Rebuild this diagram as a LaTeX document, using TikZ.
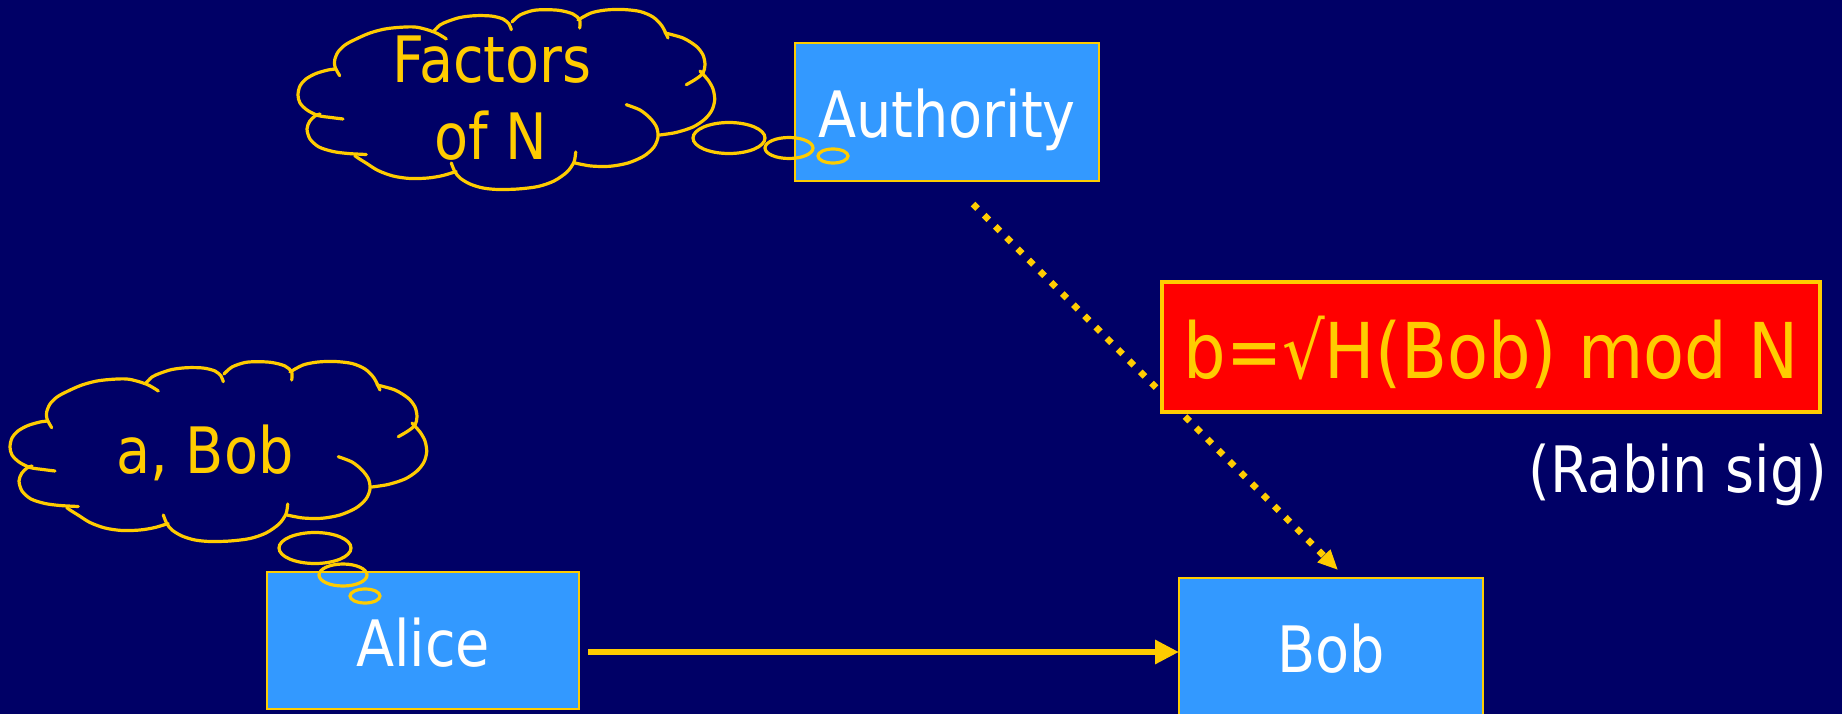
\documentclass[tikz,border=0pt]{standalone}
\usepackage{fontspec}
\setmainfont{DejaVu Sans}[FakeStretch=0.87]
\usetikzlibrary{arrows.meta}
\definecolor{bg}{HTML}{000066}
\definecolor{boxblue}{HTML}{3399FF}
\definecolor{gold}{HTML}{FFCC00}
\definecolor{sigred}{HTML}{FF0000}
\tikzset{
  actor/.style={draw=gold, line width=2pt, fill=boxblue, inner sep=0pt, outer sep=0pt,
    text=white, font=\fontsize{64}{77}\selectfont, text height=51pt, text depth=0pt},
  puff/.style={draw=gold, line width=3.2pt, line cap=round},
  thoughttext/.style={text=gold, font=\fontsize{64}{77}\selectfont, anchor=base, inner sep=0pt},
  bubble/.style={draw=gold, line width=3.2pt},
  sigbox/.style={draw=gold, line width=4pt, fill=sigred, inner sep=0pt, outer sep=0pt,
    text=gold, font=\fontsize{77}{90}\selectfont, text height=62pt, text depth=0pt,
    minimum width=658pt, minimum height=130pt},
  note/.style={text=white, font=\fontsize{64}{77}\selectfont, anchor=base, inner sep=0pt},
  msg/.style={gold, line width=6.5pt, -{Triangle[length=24pt,width=23pt]}},
  issue/.style={gold, line width=6.5pt, dash pattern=on 6.5pt off 9.3pt,
    -{Triangle[length=20pt,width=17pt]}}
}
% cloud outline, coordinates of the lower cloud
\newcommand{\drawthoughtcloud}{%
  \draw[puff] plot[smooth] coordinates {(51.7,427.7) (47,419) (46.7,412) (50,404) (57,397) (66.7,391.7) (82,385) (100,380.5) (126.7,379) (146.7,384.3) (158.3,391)};
  \draw[puff] plot[smooth] coordinates {(146,383) (152,377) (160,373.3) (172,369.5) (186.7,367.7) (203,368) (215,371) (221,376) (223.3,381.7)};
  \draw[puff] plot[smooth] coordinates {(224,374) (232,367) (245,362.5) (258,361.7) (272,362.5) (285,366) (291.7,372) (291.7,380)};
  \draw[puff] plot[smooth] coordinates {(290,372) (303,365) (318,362) (335,361.5) (352,363.5) (365,369) (374,378) (380,390)};
  \draw[puff] plot[smooth] coordinates {(377,385) (395,390) (408.3,398.3) (415,407) (417,416.7) (415,425) (408,431) (398.3,436.7)};
  \draw[puff] plot[smooth] coordinates {(412,423) (420,432) (425,441) (426.7,451.7) (424,462) (417,471) (405,479) (388,484.5) (371.7,487)};
  \draw[puff] plot[smooth] coordinates {(338.3,456.7) (352,462) (362,470) (368.5,479) (370,489) (366,499) (356,508) (340,515) (321.7,518.3) (303,518) (287,515)};
  \draw[puff] plot[smooth] coordinates {(287.7,504) (286,514) (279,524) (266,533) (250,538.5) (230,541) (210,541.5) (195,540) (182,536) (172,530) (166.7,523.3) (163.3,515)};
  \draw[puff] plot[smooth] coordinates {(168,523.5) (155,527.5) (140,530) (122,530.5) (105,528) (90,522.5) (78,515) (70,510) (66.7,507.5)};
  \draw[puff] plot[smooth] coordinates {(78.3,506.5) (60,505.5) (45,503.5) (31,499) (22,491) (19,481) (21.7,473.3) (27,468) (32,466)};
  \draw[puff] plot[smooth] coordinates {(55,471) (43,469.5) (30,467.5) (19,462) (12,455) (10,447) (12,438) (18,431) (28,425.5) (40,422) (48,421)};
}
\begin{document}
\begin{tikzpicture}[x=1pt,y=-1pt]
\fill[bg] (0,0) rectangle (1842,714);
\useasboundingbox (0,0) rectangle (1842,714);

% boxes
\node[actor, minimum width=304pt, minimum height=138pt] (auth) at (947,112) {Authority};
\node[actor, minimum width=312pt, minimum height=137pt] (alice) at (423,640.5) {Alice};
\node[actor, minimum width=304pt, minimum height=138pt] (bob) at (1331,647) {Bob};

% connectors
\draw[issue] ([xshift=26pt,yshift=-23pt]auth.south) -- ([xshift=7pt,yshift=8pt]bob.north);
\draw[msg] ([xshift=9pt,yshift=-11.5pt]alice.east) -- ([yshift=-11.5pt]alice.east -| bob.west);

% signature box
\node[sigbox] (sig) at (1491,347) {b=√H(Bob) mod N};
\node[note] (rabin) at (1678,492) {(Rabin sig)};

% upper cloud (Authority)
\begin{scope}[shift={(288,-352)}]
  \drawthoughtcloud
\end{scope}
\node[thoughttext] (facA) at (492,83) {Factors};
\node[thoughttext] (facB) at (491,160) {of N};
\draw[bubble] (729,138) ellipse [x radius=36, y radius=15.5];
\draw[bubble] (789,148) ellipse [x radius=24, y radius=10.5];
\draw[bubble] (833,156) ellipse [x radius=15, y radius=7];

% lower cloud (Alice)
\drawthoughtcloud
\node[thoughttext] (abob) at (205,473) {a, Bob};
\draw[bubble] (315,548) ellipse [x radius=36, y radius=15.5];
\draw[bubble] (343,575) ellipse [x radius=24, y radius=11];
\draw[bubble] (365,596) ellipse [x radius=15, y radius=7];
\end{tikzpicture}
\end{document}
